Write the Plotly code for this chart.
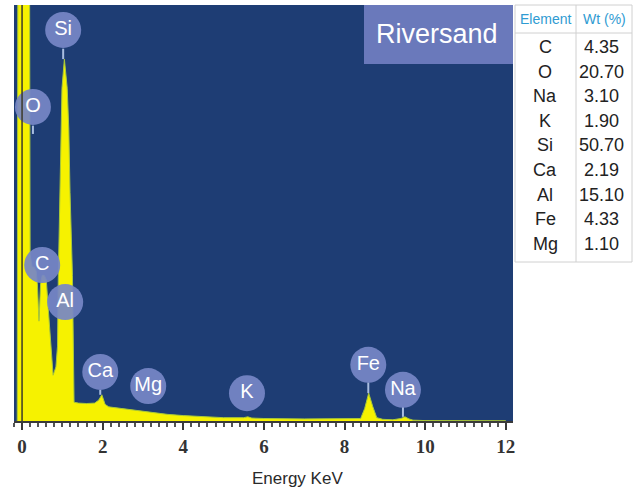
import plotly.graph_objects as go

# EDS spectrum of the river sand sample (energy in keV, counts in arbitrary units)
energy = [-0.12, -0.10, 0.00, 0.10, 0.18, 0.20, 0.25, 0.30, 0.35, 0.38, 0.42, 0.46,
          0.50, 0.55, 0.60, 0.65, 0.72, 0.77, 0.84, 0.88, 0.90, 0.94, 0.96, 0.99,
          1.05, 1.12, 1.16, 1.19, 1.25, 1.27, 1.29, 1.40, 1.60, 1.80, 1.90, 1.98,
          2.06, 2.15, 2.40, 2.80, 3.20, 3.60, 4.00, 4.50, 5.00, 5.50, 5.60, 5.70,
          6.00, 7.00, 8.00, 8.40, 8.50, 8.60, 8.70, 8.80, 8.95, 9.20, 9.40, 9.50,
          9.60, 9.70, 10.00, 11.00, 12.00]
counts = [0, 140, 140, 140, 140, 40, 37, 37, 36, 33, 24, 33,
          35, 35, 34, 27, 17, 11, 13, 18, 35, 55, 70, 80,
          87, 80, 70, 55, 35, 12, 4.5, 4.3, 4.2, 4.3, 5.0, 6.3,
          4.0, 3.4, 3.1, 2.6, 2.0, 1.6, 1.3, 1.0, 0.8, 0.8, 1.0, 0.7,
          0.6, 0.5, 0.5, 0.6, 3.0, 6.7, 3.5, 0.8, 0.4, 0.3, 0.6, 1.0,
          0.5, 0.2, 0.1, 0.05, 0.05]

# Element markers: label centre (keV, counts); stems drawn only where a tail shows
peak_labels = ["Si", "O", "C", "Al", "Ca", "Mg", "K", "Fe", "Na"]
label_x = [1.02, 0.27, 0.50, 1.07, 1.94, 3.13, 5.58, 8.59, 9.45]
label_y = [94.0, 75.5, 37.5, 28.6, 11.8, 8.4, 6.7, 13.5, 7.5]
stem_x = [1.02, 0.27, 0.50, 1.94, 8.59, 9.45]
stem_top = [89.5, 71.0, 33.0, 7.5, 9.3, 3.4]
stem_end = [87.0, 69.0, 33.0, 6.3, 6.7, 1.0]

# Composition table
elements = ["C", "O", "Na", "K", "Si", "Ca", "Al", "Fe", "Mg"]
wt_percent = ["4.35", "20.70", "3.10", "1.90", "50.70", "2.19", "15.10", "4.33", "1.10"]

x_ticks = [0, 2, 4, 6, 8, 10, 12]

W, H = 641, 490
L, R, T, B = 14, 128, 5, 69
PW, PH = W - L - R, H - T - B


def px(x):
    return (x - L) / PW


def py(y):
    return (H - B - y) / PH


fig = go.Figure()

fig.add_trace(go.Scatter(
    x=energy, y=counts, mode="lines", fill="tozeroy",
    fillcolor="#f6f200", line=dict(color="#a8c83a", width=1),
    hoverinfo="skip", showlegend=False,
))

# stems under the element balloons
sx, sy = [], []
for xv, t, e in zip(stem_x, stem_top, stem_end):
    sx += [xv, xv, None]
    sy += [t, e, None]
fig.add_trace(go.Scatter(
    x=sx, y=sy, mode="lines", line=dict(color="#a9bde0", width=2),
    hoverinfo="skip", showlegend=False,
))

fig.add_trace(go.Scatter(
    x=label_x, y=label_y, mode="markers+text", text=peak_labels,
    textposition="middle center",
    marker=dict(size=36, color="rgba(118,134,198,0.93)", line=dict(width=0)),
    textfont=dict(family="Liberation Sans, Arial, sans-serif", size=20, color="white"),
    hoverinfo="skip", showlegend=False, cliponaxis=False,
))

shapes = [
    # zero-energy axis line
    dict(type="line", xref="x", yref="paper", x0=0, x1=0, y0=0, y1=1,
         line=dict(color="#3b3b2a", width=1.5)),
    # sample name box
    dict(type="rect", xref="paper", yref="paper", x0=px(364), x1=px(513),
         y0=py(64), y1=py(5), fillcolor="#6a79bb", line=dict(width=0)),
    # composition table frame
    dict(type="rect", xref="paper", yref="paper", x0=px(515), x1=px(632),
         y0=py(262), y1=py(5), fillcolor="white", line=dict(color="#d0d0d0", width=1)),
    dict(type="line", xref="paper", yref="paper", x0=px(515), x1=px(632),
         y0=py(33), y1=py(33), line=dict(color="#d0d0d0", width=1)),
    dict(type="line", xref="paper", yref="paper", x0=px(576), x1=px(576),
         y0=py(262), y1=py(5), line=dict(color="#d0d0d0", width=1)),
]

sans = "Liberation Sans, Arial, sans-serif"


def label(text, x, y, size, color):
    return dict(text=text, xref="paper", yref="paper", x=px(x), y=py(y),
                xanchor="center", yanchor="middle", showarrow=False,
                font=dict(family=sans, size=size, color=color))


annotations = [
    label("Riversand", 437, 34, 27, "white"),
    label("Energy KeV", 297, 478, 17, "#2a2a2a"),
    label("Element", 545, 19, 14, "#2f9bd2"),
    label("Wt (%)", 604, 19, 14, "#2f9bd2"),
]
for i, (el, wt) in enumerate(zip(elements, wt_percent)):
    yy = 47 + i * 24.6
    annotations.append(label(el, 545, yy, 18, "#222"))
    annotations.append(label(wt, 601, yy, 18, "#222"))

fig.update_layout(
    width=W, height=H,
    margin=dict(l=L, r=R, t=T, b=B),
    paper_bgcolor="white", plot_bgcolor="#1e3d74",
    shapes=shapes, annotations=annotations,
    xaxis=dict(
        range=[-0.2, 12.18], tickvals=x_ticks, showgrid=False, zeroline=False,
        showline=True, linecolor="#3a3a3a", linewidth=1.5,
        ticks="outside", ticklen=7, tickwidth=1.5, tickcolor="#3a3a3a",
        minor=dict(dtick=0.2, ticks="outside", ticklen=4, tickcolor="#555"),
        tickfont=dict(family="Liberation Serif, Times New Roman, serif",
                      size=19, color="#333", weight="bold"),
    ),
    yaxis=dict(range=[0, 100], visible=False, showgrid=False, zeroline=False),
)

fig.write_html("out.html")
